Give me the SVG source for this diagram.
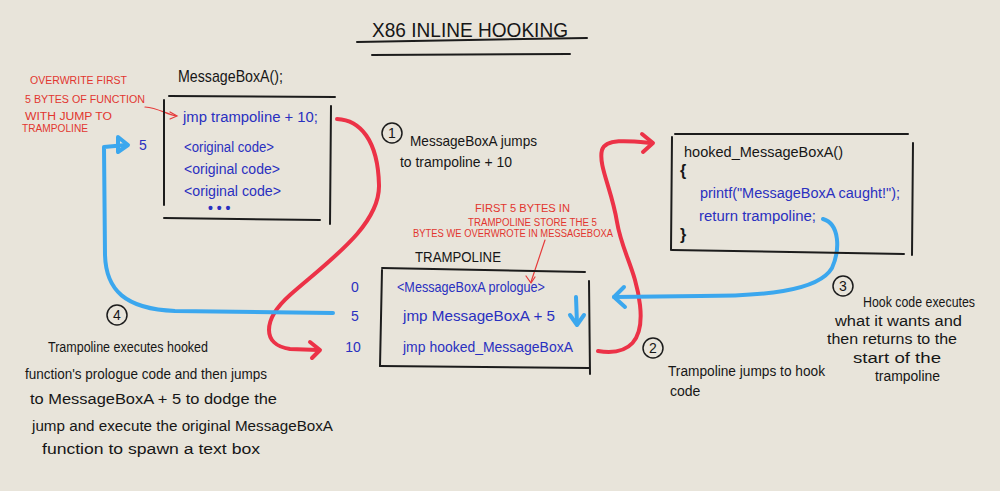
<svg xmlns="http://www.w3.org/2000/svg" width="1000" height="491" viewBox="0 0 1000 491">
<defs>
<style>
.bg{fill:#e8e4da}
.ink{stroke:#1c1c1c;stroke-width:2;fill:none;stroke-linecap:round}
.red{stroke:#ec3247;stroke-width:4;fill:none;stroke-linecap:round;stroke-linejoin:round}
.redthin{stroke:#e53a3a;stroke-width:1.2;fill:none;stroke-linecap:round}
.blue{stroke:#3ba7ee;stroke-width:4;fill:none;stroke-linecap:round;stroke-linejoin:round}
.t{font-family:"Liberation Sans",Arial,sans-serif;fill:#161616}
.code{font-family:"Liberation Sans",Arial,sans-serif;fill:#2a30c0}
.note{font-family:"Liberation Sans",Arial,sans-serif;fill:#e2362f;font-size:10px}
.circ{stroke:#1c1c1c;stroke-width:1.5;fill:none}
</style>
</defs>
<rect class="bg" x="0" y="0" width="1000" height="491"/>

<g id="title">
<text class="t" x="372" y="37" font-size="20" textLength="196" lengthAdjust="spacingAndGlyphs">X86 INLINE HOOKING</text>
<path class="ink" d="M357,42 L587,38"/>
<path class="ink" d="M372,55 L570,54" stroke-width="1.5"/>
</g>

<g id="connectors">
<!-- red note arrow -->
<path class="redthin" d="M145,107 C158,108 166,114 176,116"/>
<path class="redthin" d="M170,112 L177,116 L170,119"/>
<!-- red 1: MessageBoxA -> trampoline+10 -->
<path class="red" d="M337,119 C360,120 378,140 379,185 C380,225 330,260 290,295 C262,320 262,345 290,349 L318,350"/>
<path class="red" d="M310,342 L320,350 L312,358"/>
<!-- red 2: trampoline -> hooked -->
<path class="red" d="M598,351 C630,356 644,340 640,305 C636,270 622,252 617,222 C612,190 598,165 602,150 C606,138 630,141 652,143"/>
<path class="red" d="M642,134 L653,143 L643,152"/>
<!-- blue 3: return trampoline -> trampoline start -->
<path class="blue" d="M823,219 C840,224 840,250 832,268 C818,292 760,296 700,296 L614,297"/>
<path class="blue" d="M624,287 L614,297 L625,307"/>
<!-- blue 4: trampoline +5 -> MessageBoxA+5 -->
<path class="blue" d="M333,313 L175,311 C125,309 106,290 105,255 L104,147 L126,145"/>
<path class="blue" d="M118,137 L128,145 L118,152 Z" fill="#3ba7ee"/>
<!-- small blue down arrow in trampoline -->
<path class="blue" d="M576,297 L577,324"/>
<path class="blue" d="M570,315 L577,325 L584,315"/>
<!-- red thin note arrow to trampoline -->
<path class="redthin" d="M545,240 L531,282"/>
<path class="redthin" d="M526,276 L531,283 L535,277"/>
</g>

<g id="note-overwrite">
<text class="note" x="30" y="84" textLength="97" lengthAdjust="spacingAndGlyphs">OVERWRITE FIRST</text>
<text class="note" x="25" y="103" textLength="120" lengthAdjust="spacingAndGlyphs">5 BYTES OF FUNCTION</text>
<text class="note" x="25" y="120" textLength="87" lengthAdjust="spacingAndGlyphs">WITH JUMP TO</text>
<text class="note" x="22" y="132" textLength="66" lengthAdjust="spacingAndGlyphs">TRAMPOLINE</text>
</g>

<g id="messageboxa">
<text class="t" x="178" y="82" font-size="17" textLength="105" lengthAdjust="spacingAndGlyphs">MessageBoxA();</text>
<path class="ink" d="M169,96 L335,97"/>
<path class="ink" d="M164,100 L164,205"/>
<path class="ink" d="M164,218 L320,220"/>
<path class="ink" d="M331,106 L330,224"/>
<text class="code" x="183" y="122" font-size="14" textLength="135" lengthAdjust="spacingAndGlyphs">jmp  trampoline + 10;</text>
<text class="code" x="184" y="152" font-size="14" textLength="90" lengthAdjust="spacingAndGlyphs">&lt;original code&gt;</text>
<text class="code" x="184" y="174" font-size="14" textLength="96" lengthAdjust="spacingAndGlyphs">&lt;original code&gt;</text>
<text class="code" x="184" y="196" font-size="14" textLength="97" lengthAdjust="spacingAndGlyphs">&lt;original code&gt;</text>
<text class="code" x="208" y="213" font-size="14" font-weight="bold">• • •</text>
<text class="code" x="139" y="150" font-size="14">5</text>
</g>

<g id="step1">
<circle class="circ" cx="392" cy="133" r="10"/>
<text class="t" x="392" y="138" font-size="14" text-anchor="middle">1</text>
<text class="t" x="410" y="146" font-size="15" textLength="127" lengthAdjust="spacingAndGlyphs">MessageBoxA jumps</text>
<text class="t" x="400" y="167" font-size="15" textLength="112" lengthAdjust="spacingAndGlyphs">to trampoline + 10</text>
</g>

<g id="note-firstbytes">
<text class="note" x="475" y="212" textLength="95" lengthAdjust="spacingAndGlyphs">FIRST 5 BYTES IN</text>
<text class="note" x="468" y="226" textLength="129" lengthAdjust="spacingAndGlyphs">TRAMPOLINE STORE THE 5</text>
<text class="note" x="413" y="237" textLength="200" lengthAdjust="spacingAndGlyphs">BYTES WE OVERWROTE IN MESSAGEBOXA</text>
</g>

<g id="trampoline">
<text class="t" x="415" y="262" font-size="14" textLength="86" lengthAdjust="spacingAndGlyphs">TRAMPOLINE</text>
<path class="ink" d="M382,268 L585,272"/>
<path class="ink" d="M382,270 L380,366"/>
<path class="ink" d="M380,366 L589,368"/>
<path class="ink" d="M589,281 L590,374"/>
<text class="code" x="355" y="292" font-size="14" text-anchor="middle">0</text>
<text class="code" x="355" y="321" font-size="14" text-anchor="middle">5</text>
<text class="code" x="353" y="352" font-size="14" text-anchor="middle">10</text>
<text class="code" x="397" y="292" font-size="15" textLength="148" lengthAdjust="spacingAndGlyphs">&lt;MessageBoxA prologue&gt;</text>
<text class="code" x="403" y="321" font-size="15" textLength="152" lengthAdjust="spacingAndGlyphs">jmp  MessageBoxA + 5</text>
<text class="code" x="403" y="352" font-size="15" textLength="170" lengthAdjust="spacingAndGlyphs">jmp  hooked_MessageBoxA</text>
</g>

<g id="hooked">
<path class="ink" d="M675,134 L908,134"/>
<path class="ink" d="M672,137 L671,250"/>
<path class="ink" d="M672,250 L904,254"/>
<path class="ink" d="M913,143 L912,255"/>
<text class="t" x="684" y="157" font-size="15" textLength="159" lengthAdjust="spacingAndGlyphs">hooked_MessageBoxA()</text>
<text class="t" x="680" y="176" font-size="16" font-weight="bold">{</text>
<text class="code" x="700" y="198" font-size="14" textLength="200" lengthAdjust="spacingAndGlyphs">printf("MessageBoxA caught!");</text>
<text class="code" x="699" y="221" font-size="14" textLength="117" lengthAdjust="spacingAndGlyphs">return trampoline;</text>
<text class="t" x="680" y="240" font-size="16" font-weight="bold">}</text>
</g>

<g id="step2">
<circle class="circ" cx="653" cy="348" r="10"/>
<text class="t" x="653" y="353" font-size="14" text-anchor="middle">2</text>
<text class="t" x="668" y="376" font-size="14" textLength="157" lengthAdjust="spacingAndGlyphs">Trampoline jumps to hook</text>
<text class="t" x="670" y="396" font-size="14">code</text>
</g>

<g id="step3">
<circle class="circ" cx="843" cy="286" r="10"/>
<text class="t" x="843" y="291" font-size="14" text-anchor="middle">3</text>
<text class="t" x="863" y="307" font-size="14" textLength="112" lengthAdjust="spacingAndGlyphs">Hook code executes</text>
<text class="t" x="835" y="326" font-size="14" textLength="127" lengthAdjust="spacingAndGlyphs">what it wants and</text>
<text class="t" x="827" y="344" font-size="14" textLength="130" lengthAdjust="spacingAndGlyphs">then returns to the</text>
<text class="t" x="853" y="363" font-size="14" textLength="88" lengthAdjust="spacingAndGlyphs">start of the</text>
<text class="t" x="875" y="381" font-size="14" textLength="65" lengthAdjust="spacingAndGlyphs">trampoline</text>
</g>

<g id="step4">
<circle class="circ" cx="117" cy="315" r="10"/>
<text class="t" x="117" y="320" font-size="14" text-anchor="middle">4</text>
<text class="t" x="48" y="352" font-size="14" textLength="160" lengthAdjust="spacingAndGlyphs">Trampoline executes hooked</text>
<text class="t" x="25" y="379" font-size="14" textLength="242" lengthAdjust="spacingAndGlyphs">function's prologue code and then jumps</text>
<text class="t" x="30" y="404" font-size="14" textLength="247" lengthAdjust="spacingAndGlyphs">to MessageBoxA + 5 to dodge the</text>
<text class="t" x="32" y="431" font-size="14" textLength="301" lengthAdjust="spacingAndGlyphs">jump and execute the original MessageBoxA</text>
<text class="t" x="42" y="454" font-size="14" textLength="218" lengthAdjust="spacingAndGlyphs">function to spawn a text box</text>
</g>
</svg>
